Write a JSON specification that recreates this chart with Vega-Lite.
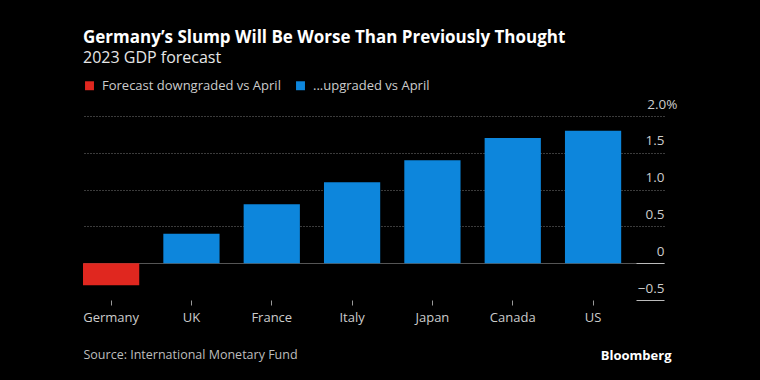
{
  "$schema": "https://vega.github.io/schema/vega-lite/v6.json",
  "width": 581,
  "height": 184,
  "autosize": {"type": "none"},
  "padding": {"left": 83, "top": 116, "right": 96, "bottom": 80},
  "background": "#000000",
  "title": {
    "text": "Germany’s Slump Will Be Worse Than Previously Thought",
    "subtitle": "2023 GDP forecast",
    "anchor": "start",
    "frame": "group",
    "font": "Open Sans",
    "fontSize": 17,
    "fontWeight": "bold",
    "color": "#ffffff",
    "subtitleFont": "Open Sans",
    "subtitleFontSize": 16,
    "subtitleColor": "#e6e6e6",
    "subtitlePadding": 3,
    "offset": 12
  },
  "data": {
    "values": [
      {"country": "Germany", "gdp": -0.3, "status": "Forecast downgraded vs April"},
      {"country": "UK", "gdp": 0.4, "status": "...upgraded vs April"},
      {"country": "France", "gdp": 0.8, "status": "...upgraded vs April"},
      {"country": "Italy", "gdp": 1.1, "status": "...upgraded vs April"},
      {"country": "Japan", "gdp": 1.4, "status": "...upgraded vs April"},
      {"country": "Canada", "gdp": 1.7, "status": "...upgraded vs April"},
      {"country": "US", "gdp": 1.8, "status": "...upgraded vs April"}
    ]
  },
  "layer": [
    {
      "mark": {"type": "bar"},
      "encoding": {
        "x": {
          "field": "country",
          "type": "nominal",
          "sort": null,
          "scale": {"paddingInner": 0.3, "paddingOuter": 0.2665, "align": 0},
          "axis": {
            "title": "Source: International Monetary Fund",
            "titleAnchor": "start",
            "titleAlign": "left",
            "titleFont": "Open Sans",
            "titleFontSize": 12.5,
            "titleFontWeight": "normal",
            "titleColor": "#bdbdbd",
            "titlePadding": 24,
            "labelAngle": 0,
            "labelFont": "Open Sans",
            "labelFontSize": 13,
            "labelColor": "#cccccc",
            "labelPadding": 6,
            "domain": false,
            "ticks": true,
            "tickSize": 5,
            "tickColor": "#999999",
            "grid": false
          }
        },
        "y": {
          "field": "gdp",
          "type": "quantitative",
          "scale": {"domain": [-0.5, 2.0], "nice": false, "zero": false},
          "axis": {
            "orient": "right",
            "values": [-0.5, 0, 0.5, 1, 1.5, 2],
            "labelExpr": "datum.value == 2 ? '2.0%' : datum.value == 0 ? '0' : format(datum.value, '.1f')",
            "labelAlign": "right",
            "labelBaseline": "alphabetic",
            "labelOffset": -8,
            "labelPadding": {"condition": {"test": "datum.value == 2", "value": 41}, "value": 28},
            "labelFont": "Open Sans",
            "labelFontSize": 13.5,
            "labelColor": "#cccccc",
            "labelLimit": 300,
            "domain": false,
            "ticks": true,
            "tickSize": -28,
            "tickColor": "#bbbbbb",
            "tickOpacity": {"condition": {"test": "datum.value <= 0", "value": 1}, "value": 0},
            "grid": true,
            "gridColor": {"condition": {"test": "datum.value == 0", "value": "#555555"}, "value": "#777777"},
            "gridDash": {"condition": {"test": "datum.value == 0", "value": []}, "value": [1, 2]},
            "gridOpacity": {"condition": {"test": "datum.value < 0", "value": 0}, "value": 1},
            "title": "Bloomberg",
            "titleAngle": 0,
            "titleAlign": "right",
            "titleBaseline": "middle",
            "titleX": 7,
            "titleY": 239,
            "titleFont": "Open Sans",
            "titleFontSize": 13,
            "titleFontWeight": "bold",
            "titleColor": "#ffffff"
          }
        },
        "color": {
          "field": "status",
          "type": "nominal",
          "scale": {
            "domain": ["Forecast downgraded vs April", "...upgraded vs April"],
            "range": ["#e0271f", "#0d86dc"]
          },
          "legend": {
            "title": null,
            "orient": "none",
            "legendX": 0,
            "legendY": -37,
            "direction": "horizontal",
            "symbolType": "square",
            "symbolSize": 80,
            "symbolStrokeWidth": 0,
            "labelFont": "Open Sans",
            "labelFontSize": 13,
            "labelColor": "#cccccc",
            "labelLimit": 400,
            "labelOffset": 6,
            "columnPadding": 13
          }
        }
      }
    }
  ],
  "config": {
    "view": {"stroke": null}
  }
}
